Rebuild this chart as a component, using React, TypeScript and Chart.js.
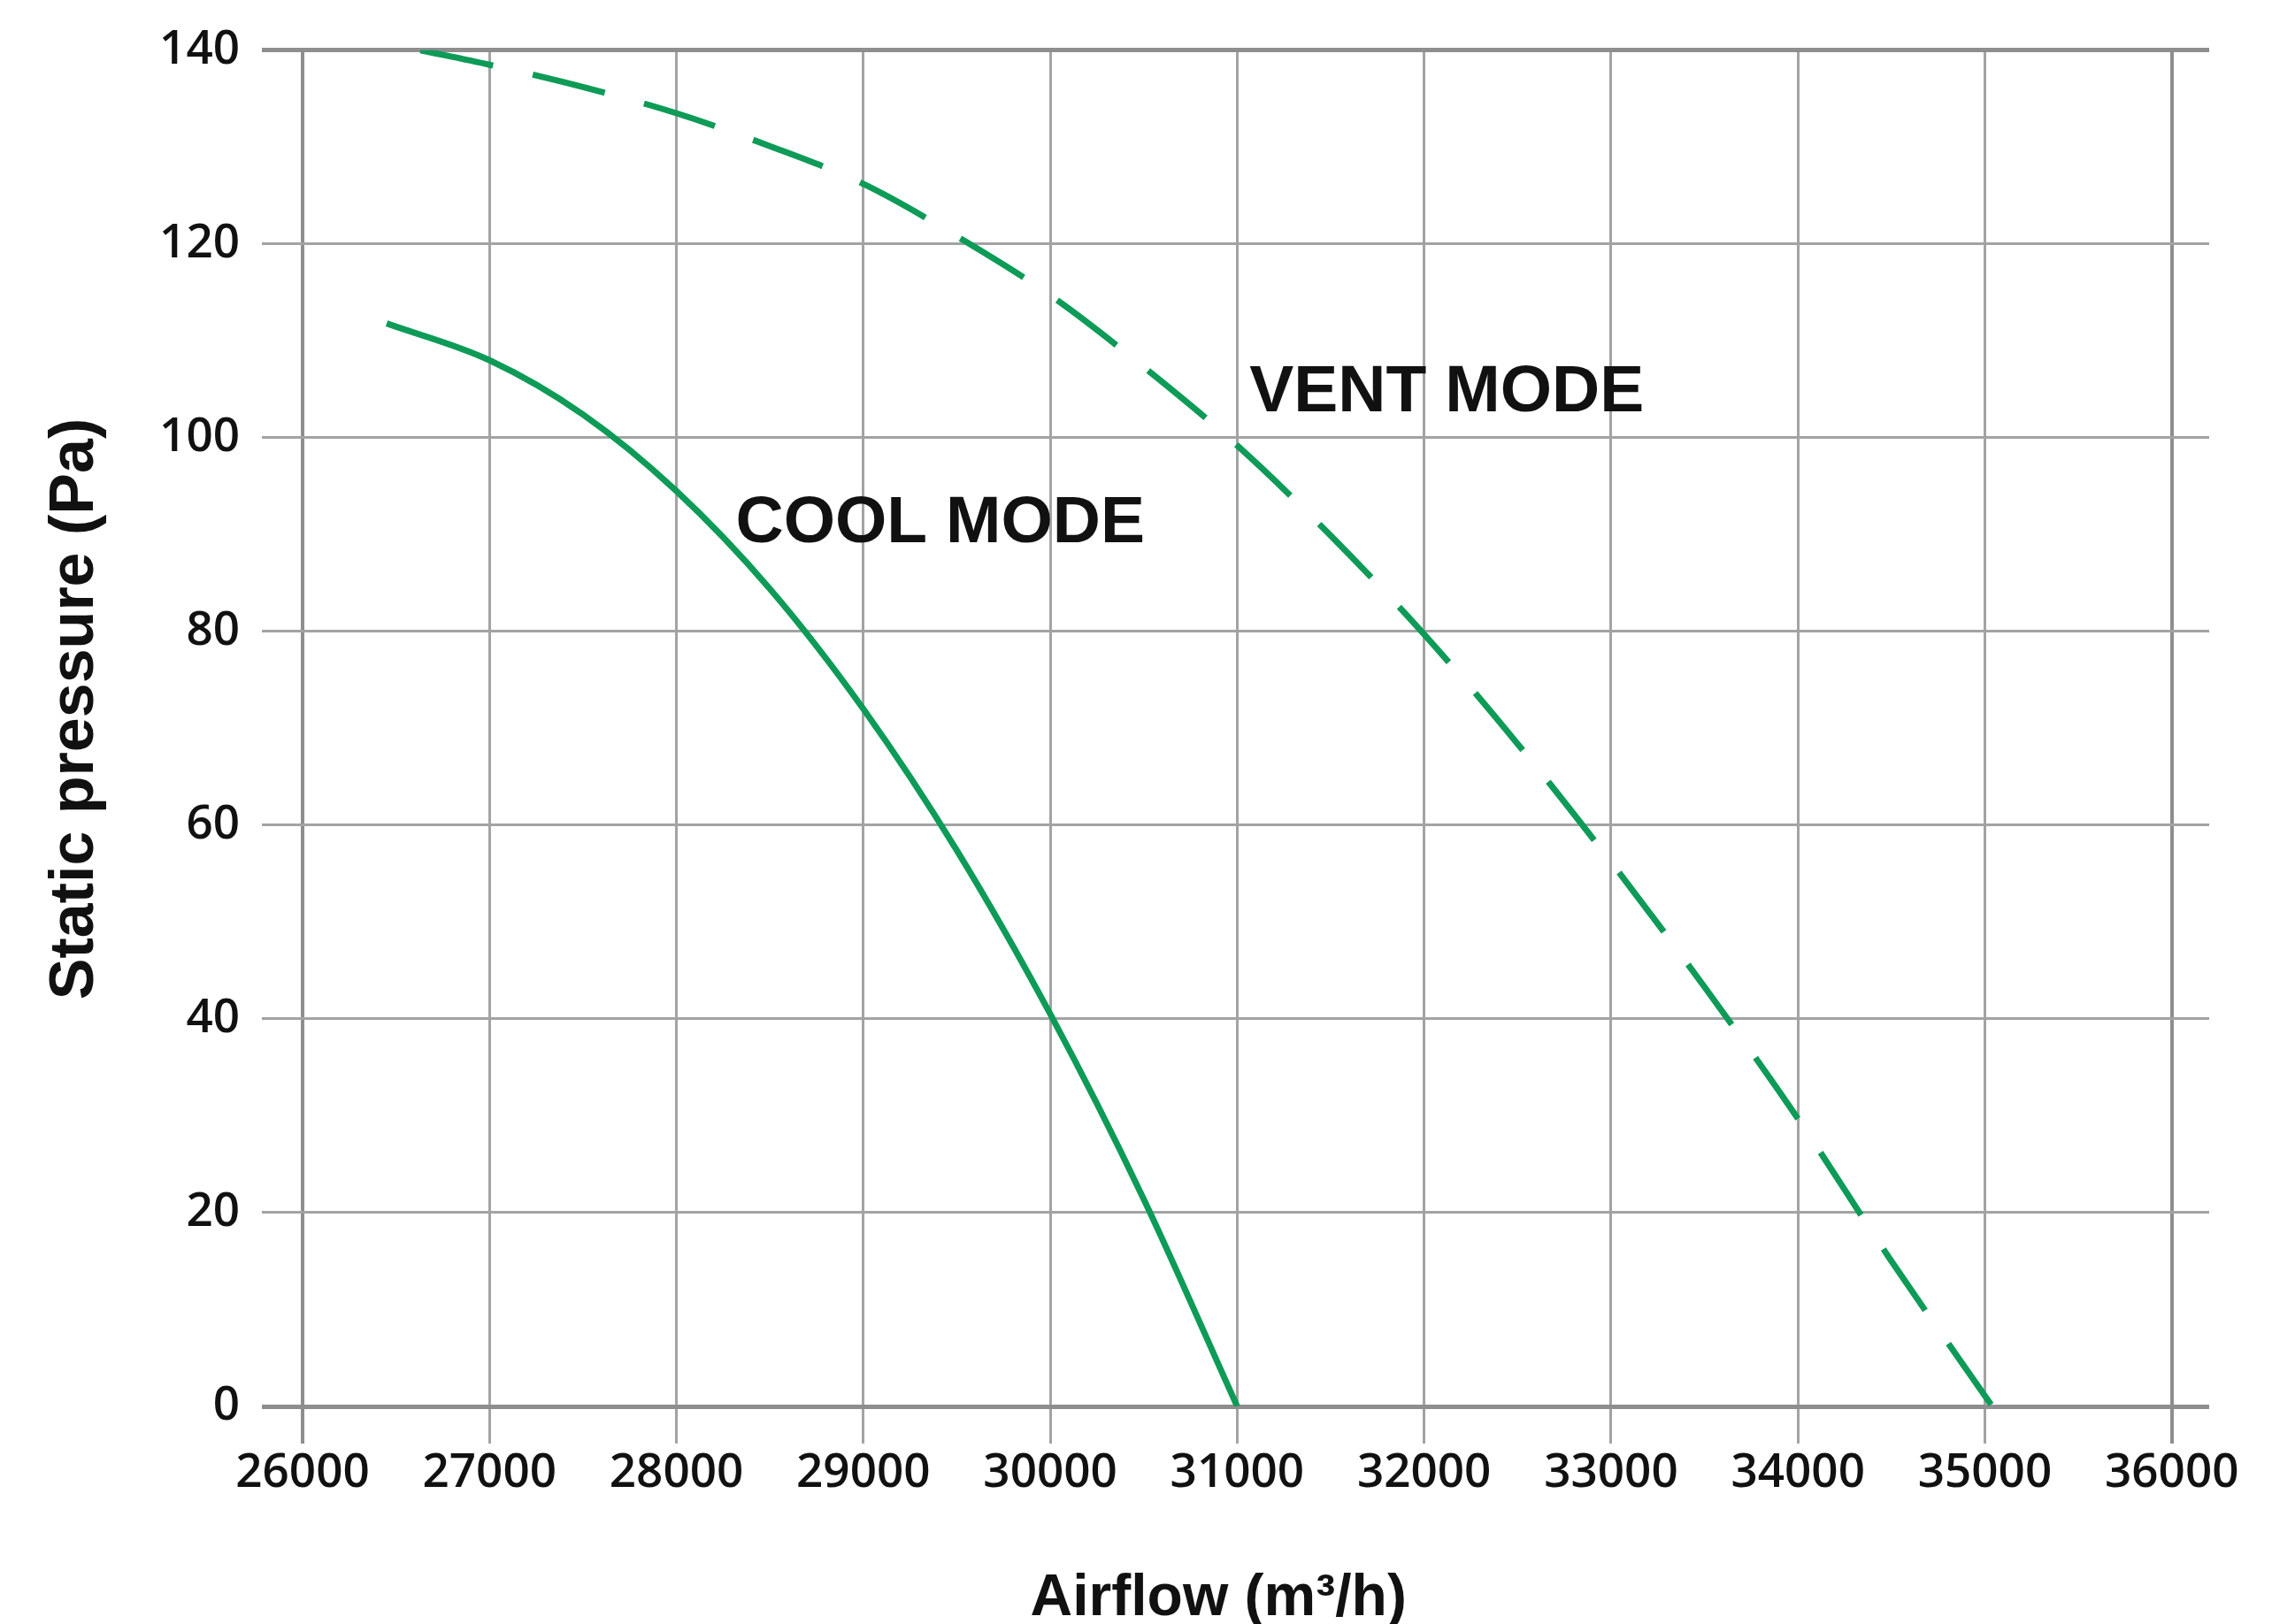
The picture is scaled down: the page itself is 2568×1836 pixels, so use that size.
import React, { useEffect, useRef } from 'react';
import { Chart, registerables } from 'chart.js';

Chart.register(...registerables);

// Cool mode (solid curve)
const coolAirflow = [26450, 27000, 27500, 28000, 28500, 29000, 29500, 30000, 30500, 31000];
const coolPressure = [111.8, 108, 102.4, 94.5, 84.4, 72, 57.4, 40.5, 21.4, 0];

// Vent mode (dashed curve)
const ventAirflow = [26630, 27000, 27500, 28000, 28500, 29000, 29500, 30000, 30500, 31000, 31500, 32000, 32500, 33000, 33500, 34000, 34500, 35040];
const ventPressure = [140, 138.5, 136.2, 133.5, 130.1, 126.2, 120.8, 114.7, 107.3, 99.2, 89.9, 79.7, 68.4, 56.2, 43.3, 29.7, 15.0, 0];

const xTickValues = [26000, 27000, 28000, 29000, 30000, 31000, 32000, 33000, 34000, 35000, 36000];
const yTickValues = [0, 20, 40, 60, 80, 100, 120, 140];

const xTitle = 'Airflow (m³/h)';
const yTitle = 'Static pressure (Pa)';

const curveLabels = [
  { text: 'VENT MODE', x: 31066, y: 104.6 },
  { text: 'COOL MODE', x: 28317, y: 91.1 },
];

const GREEN = '#0e9b57';
const GRID = '#a3a3a3';
const GRID_DARK = '#8e8e8e';

const textPlugin = {
  id: 'textLayer',
  afterDraw(chart: any) {
    const { ctx, scales } = chart;
    ctx.save();
    ctx.fillStyle = '#111';
    // curve labels
    ctx.font = 'bold 75px "Liberation Sans", Arial, sans-serif';
    ctx.textAlign = 'left';
    ctx.textBaseline = 'middle';
    for (const l of curveLabels) {
      ctx.fillText(l.text, scales.x.getPixelForValue(l.x), scales.y.getPixelForValue(l.y));
    }
    // x axis title
    ctx.font = 'bold 66px "Liberation Sans", Arial, sans-serif';
    ctx.textAlign = 'center';
    ctx.fillText(xTitle, scales.x.getPixelForValue(30900), chart.height - 28);
    // y axis title
    ctx.font = 'bold 70px "Liberation Sans", Arial, sans-serif';
    ctx.translate(86, scales.y.getPixelForValue(72));
    ctx.rotate(-Math.PI / 2);
    ctx.fillText(yTitle, 0, 0);
    ctx.restore();
  },
};

export default function App() {
  const ref = useRef<HTMLCanvasElement | null>(null);
  useEffect(() => {
    if (!ref.current) return;
    const chart = new Chart(ref.current, {
      type: 'line',
      data: {
        datasets: [
          {
            label: 'COOL MODE',
            data: coolAirflow.map((x, i) => ({ x, y: coolPressure[i] })),
            borderColor: GREEN,
            borderWidth: 7,
            pointRadius: 0,
            cubicInterpolationMode: 'monotone',
            fill: false,
          },
          {
            label: 'VENT MODE',
            data: ventAirflow.map((x, i) => ({ x, y: ventPressure[i] })),
            borderColor: GREEN,
            borderWidth: 7,
            borderDash: [84, 46],
            borderCapStyle: 'butt',
            pointRadius: 0,
            cubicInterpolationMode: 'monotone',
            fill: false,
          },
        ],
      },
      options: {
        animation: false,
        responsive: false,
        devicePixelRatio: 1,
        layout: { padding: { top: 54, right: 71, left: 0, bottom: 0 } },
        plugins: { legend: { display: false }, tooltip: { enabled: false } },
        scales: {
          x: {
            type: 'linear',
            min: 26000,
            max: 36200,
            afterBuildTicks: (s: any) => {
              s.ticks = xTickValues.map((v) => ({ value: v }));
            },
            afterFit: (s: any) => {
              s.height = 246;
            },
            border: { display: false },
            grid: {
              color: (c: any) => (c.tick && (c.tick.value === 26000 || c.tick.value === 36000) ? GRID_DARK : GRID),
              lineWidth: (c: any) => (c.tick && (c.tick.value === 26000 || c.tick.value === 36000) ? 4 : 3),
              tickLength: 42,
            },
            ticks: {
              color: '#111',
              padding: 2,
              maxRotation: 0,
              autoSkip: false,
              font: { family: "'Open Sans', sans-serif", size: 53, weight: '600' },
              callback: (v: any) => String(v),
            },
            title: { display: false },
          },
          y: {
            type: 'linear',
            min: 0,
            max: 140,
            afterBuildTicks: (s: any) => {
              s.ticks = yTickValues.map((v) => ({ value: v }));
            },
            afterFit: (s: any) => {
              s.width = 342;
            },
            border: { display: false },
            grid: {
              color: (c: any) => (c.tick && (c.tick.value === 0 || c.tick.value === 140) ? GRID_DARK : GRID),
              lineWidth: (c: any) => (c.tick && (c.tick.value === 0 || c.tick.value === 140) ? 5 : 3),
              tickLength: 46,
            },
            ticks: {
              color: '#111',
              padding: 25,
              autoSkip: false,
              font: { family: "'Open Sans', sans-serif", size: 53, weight: '600' },
              callback: (v: any) => String(v),
            },
            title: { display: false },
          },
        },
      },
      plugins: [textPlugin],
    } as any);
    return () => chart.destroy();
  }, []);

  return (
    <div style={{ position: 'fixed', left: 0, top: 0, width: 2568, height: 1836, background: '#fff' }}>
      <canvas ref={ref} width={2568} height={1836} style={{ width: 2568, height: 1836, display: 'block' }} />
    </div>
  );
}
